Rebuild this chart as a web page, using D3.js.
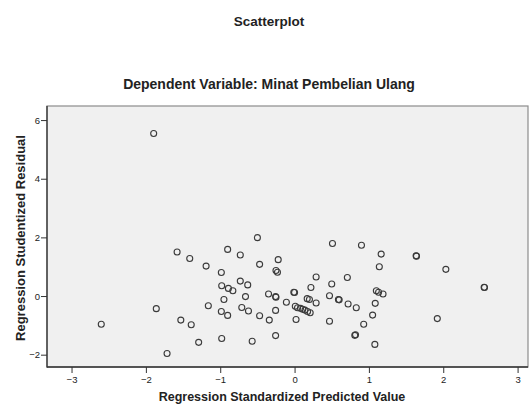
<!DOCTYPE html>
<html>
<head>
<meta charset="utf-8">
<script src="https://cdn.jsdelivr.net/npm/d3@7"></script>
<style>
  body { margin: 0; background: #fff; }
  text { font-family: "Liberation Sans", Arial, sans-serif; fill: #222; }
</style>
</head>
<body>
<div id="chart"></div>
<script>
// predicted values (x) and studentized residuals (y)
const predicted = [
  -1.895, -1.58, -1.41, -1.86, -2.60, -1.53, -1.39, -1.715, -1.29,
  -0.50, -0.90, -0.73, -1.19, -0.47, -0.22, -0.985, -0.25, -0.23, -0.73, -0.63,
  -0.98, -0.89, -0.83, -0.35, -0.255, -0.25, -0.66, -0.95, -0.01, 0.00,
  -0.11, -1.16, -0.985, -0.90, -0.71, -0.62, -0.47, -0.34, -0.255, 0.02,
  -0.98, -0.57, -0.255, 0.81, 0.82, 1.08,
  0.51, 0.90, 1.165, 1.14, 0.29, 0.71, 0.22, 0.50, 0.47, 0.59, 0.60, 0.72, 0.83,
  0.17, 0.20, 0.29, 1.10, 1.13, 1.19, 1.085, 1.05, 0.93, 0.47,
  0.01, 0.04, 0.08, 0.11, 0.14, 0.175, 0.21,
  1.635, 1.64, 2.035, 2.55, 2.555, 1.92
]
const residual = [
  5.54, 1.50, 1.28, -0.43, -0.96, -0.82, -0.98, -1.96, -1.58,
  1.99, 1.59, 1.40, 1.02, 1.08, 1.24, 0.80, 0.87, 0.81, 0.51, 0.38,
  0.35, 0.26, 0.18, 0.07, -0.02, -0.04, -0.02, -0.12, 0.13, 0.12,
  -0.21, -0.33, -0.53, -0.66, -0.39, -0.51, -0.67, -0.82, -0.49, -0.80,
  -1.45, -1.54, -1.35, -1.34, -1.32, -1.65,
  1.79, 1.73, 1.43, 1.00, 0.65, 0.63, 0.29, 0.41, 0.01, -0.12, -0.13, -0.27, -0.40,
  -0.09, -0.12, -0.24, 0.18, 0.13, 0.07, -0.25, -0.65, -0.96, -0.86,
  -0.35, -0.40, -0.42, -0.45, -0.48, -0.53, -0.57,
  1.37, 1.36, 0.91, 0.30, 0.29, -0.77
]
const xTicks = [-3, -2, -1, 0, 1, 2, 3]
const yTicks = [-2, 0, 2, 4, 6]

const TITLE = 'Scatterplot'
const SUBTITLE = 'Dependent Variable: Minat Pembelian Ulang'
const X_LABEL = 'Regression Standardized Predicted Value'
const Y_LABEL = 'Regression Studentized Residual'

const width = 529, height = 407
const plot = { left: 47, top: 106, right: 528, bottom: 367 }

const svg = d3.select('#chart').append('svg')
  .attr('width', width)
  .attr('height', height)

let x = d3.scaleLinear()
  .domain([-3.33, 3.14])
  .range([plot.left, plot.right])

let y = d3.scaleLinear()
  .domain([-2.42, 6.48])
  .range([plot.bottom, plot.top])

// titles
svg.append('text')
  .attr('x', 269).attr('y', 26)
  .attr('text-anchor', 'middle')
  .style('font-size', '13.5px').style('font-weight', 'bold')
  .text(TITLE)

svg.append('text')
  .attr('x', 269).attr('y', 89)
  .attr('text-anchor', 'middle')
  .style('font-size', '14px').style('font-weight', 'bold')
  .text(SUBTITLE)

// plot background + frame
svg.append('rect')
  .attr('x', plot.left).attr('y', plot.top)
  .attr('width', plot.right - plot.left)
  .attr('height', plot.bottom - plot.top)
  .attr('fill', '#f0f0f0')
  .attr('stroke', '#8c8c8c')
  .attr('stroke-width', 1.2)

// axes
let xAxis = svg.append('g')
  .attr('transform', 'translate(0,' + plot.bottom + ')')
  .call(d3.axisBottom(x).tickValues(xTicks).tickSize(6).tickPadding(3).tickFormat(d3.format('d')))

let yAxis = svg.append('g')
  .attr('transform', 'translate(' + plot.left + ',0)')
  .call(d3.axisLeft(y).tickValues(yTicks).tickSize(6).tickPadding(1).tickFormat(d3.format('d')))

for (let a of [xAxis, yAxis]) {
  a.select('.domain').remove()
  a.selectAll('line').attr('stroke', '#333')
  a.selectAll('text')
    .style('font-size', '9.5px')
    .style('font-family', '"Liberation Sans", Arial, sans-serif')
    .attr('fill', '#333')
}

svg.append('line')
  .attr('x1', plot.left).attr('x2', plot.left)
  .attr('y1', plot.top).attr('y2', plot.bottom + 0.5)
  .attr('stroke', '#333').attr('stroke-width', 1.3)

svg.append('line')
  .attr('x1', plot.left).attr('x2', plot.right)
  .attr('y1', plot.bottom).attr('y2', plot.bottom)
  .attr('stroke', '#333').attr('stroke-width', 1.3)

// points
svg.append('g')
  .selectAll('circle')
  .data(predicted.map((d, i) => [d, residual[i]]))
  .enter().append('circle')
    .attr('cx', (d) => x(d[0]))
    .attr('cy', (d) => y(d[1]))
    .attr('r', 3)
    .attr('fill', 'none')
    .attr('stroke', '#3a3a3a')
    .attr('stroke-width', 1.1)

// axis titles
svg.append('text')
  .attr('x', 282).attr('y', 401)
  .attr('text-anchor', 'middle')
  .style('font-size', '12.5px').style('font-weight', 'bold')
  .text(X_LABEL)

svg.append('text')
  .attr('transform', 'translate(25,238) rotate(-90)')
  .attr('text-anchor', 'middle')
  .style('font-size', '13px').style('font-weight', 'bold')
  .text(Y_LABEL)
</script>
</body>
</html>
